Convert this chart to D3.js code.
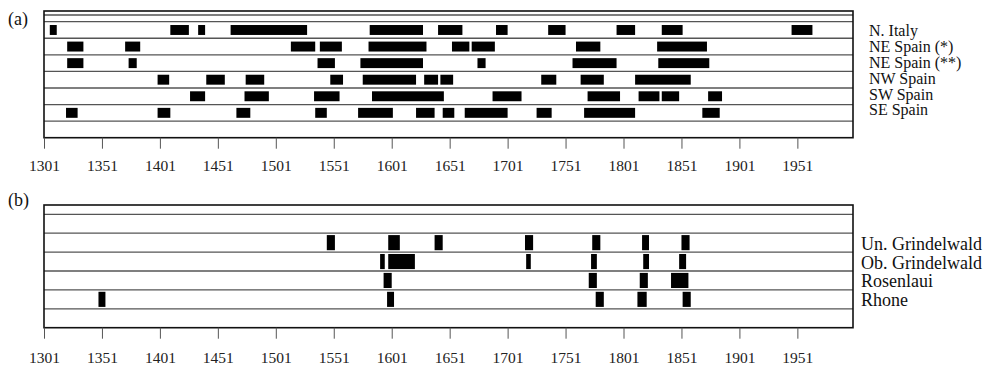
<!DOCTYPE html>
<html>
<head>
<meta charset="utf-8">
<script src="https://cdn.jsdelivr.net/npm/d3@7"></script>
<style>
  body { margin: 0; background: #fff; }
  svg { display: block; }
  .axis text { font-family: "Liberation Serif", "Times New Roman", serif; fill: #222; }
  .axis line { stroke: #555; }
</style>
</head>
<body>
<div id="chart"></div>
<script>
// ticks
const tickYears = [1301, 1351, 1401, 1451, 1501, 1551, 1601, 1651, 1701, 1751, 1801, 1851, 1901, 1951];

// panel (a) rows
const rowsA = ['N. Italy', 'NE Spain (*)', 'NE Spain (**)', 'NW Spain', 'SW Spain', 'SE Spain'];
const nItaly = [[1306,1312],[1410,1426],[1434,1440],[1462,1528],[1582,1628],[1641,1662],[1691,1701],[1736,1751],[1795,1811],[1834,1852],[1946,1964]];
const neSpain1 = [[1321,1335],[1371,1384],[1514,1535],[1539,1558],[1581,1631],[1653,1668],[1670,1690],[1760,1781],[1830,1873]];
const neSpain2 = [[1321,1335],[1374,1381],[1537,1552],[1574,1628],[1675,1682],[1757,1795],[1831,1875]];
const nwSpain = [[1399,1409],[1441,1457],[1475,1491],[1548,1559],[1576,1622],[1629,1641],[1643,1654],[1730,1743],[1764,1784],[1811,1859]];
const swSpain = [[1427,1440],[1474,1495],[1534,1556],[1584,1646],[1688,1713],[1770,1798],[1814,1832],[1834,1849],[1874,1886]];
const seSpain = [[1320,1330],[1399,1410],[1467,1479],[1535,1545],[1572,1602],[1622,1638],[1645,1655],[1664,1701],[1726,1739],[1767,1811],[1869,1884]];

// panel (b) rows
const rowsB = ['Un. Grindelwald', 'Ob. Grindelwald', 'Rosenlaui', 'Rhone'];
const unGrindelwald = [[1545,1552],[1598,1608],[1638,1645],[1716,1723],[1774,1781],[1817,1823],[1851,1858]];
const obGrindelwald = [[1591,1595],[1598,1621],[1717,1721],[1773,1778],[1818,1823],[1849,1855]];
const rosenlaui = [[1594,1601],[1771,1778],[1815,1822],[1842,1857]];
const rhone = [[1348,1354],[1597,1603],[1777,1784],[1813,1821],[1852,1859]];

const width = 984, height = 366;
const left = 44, right = 853;

const svg = d3.select('#chart').append('svg')
    .attr('width', width)
    .attr('height', height);

const x = d3.scaleLinear().domain([1301, 1999]).range([left, right]);

function drawPanel(opt) {
  const g = svg.append('g');
  // one empty slot at the bottom (and in (b) at the top)
  const domain = (opt.topBlank ? ['_top'] : []).concat(opt.rows, ['_bottom']);
  const y = d3.scaleBand().domain(domain).range([opt.bandTop, opt.bottom]);

  // row separators
  const lines = domain.map(d => y(d)).concat(opt.extraLines);
  g.selectAll('.rowline').data(lines).join('line')
      .attr('class', 'rowline')
      .attr('x1', left).attr('x2', right)
      .attr('y1', d => d).attr('y2', d => d)
      .attr('stroke', '#555')
      .attr('stroke-width', 1.3);

  // bars
  opt.rows.forEach((name, i) => {
    const h = y.bandwidth() * opt.barFrac;
    g.selectAll('.bar' + i).data(opt.series[i]).join('rect')
        .attr('class', 'bar' + i)
        .attr('x', d => x(d[0]))
        .attr('width', d => x(d[1]) - x(d[0]))
        .attr('y', y(name) + (y.bandwidth() - h) / 2)
        .attr('height', h)
        .attr('fill', '#000');
  });

  // frame
  g.append('rect')
      .attr('x', left).attr('y', opt.top)
      .attr('width', right - left).attr('height', opt.bottom - opt.top)
      .attr('fill', 'none')
      .attr('stroke', '#111')
      .attr('stroke-width', 1.6);

  // axis
  const axis = d3.axisBottom(x).tickValues(tickYears).tickFormat(d3.format('d'))
      .tickSize(11).tickSizeOuter(0).tickPadding(opt.tickPad);
  const ax = g.append('g').attr('class', 'axis')
      .attr('transform', 'translate(0,' + opt.bottom + ')')
      .call(axis);
  ax.select('.domain').remove();
  ax.selectAll('text').style('font-size', '15.5px');

  // row labels
  g.selectAll('.lab').data(opt.rows).join('text')
      .attr('class', 'lab')
      .attr('x', opt.labelX)
      .attr('y', (d, i) => y(opt.rows[0]) + y.bandwidth() / 2 + opt.labelDy + i * opt.labelStep)
      .attr('font-family', '"Liberation Serif", "Times New Roman", serif')
      .attr('font-size', opt.labelSize)
      .attr('fill', '#111')
      .text(d => d);

  // panel letter
  g.append('text')
      .attr('x', 8).attr('y', opt.top + opt.letterDy)
      .attr('font-family', '"Liberation Serif", "Times New Roman", serif')
      .attr('font-size', 18)
      .attr('fill', '#111')
      .text(opt.letter);
}

drawPanel({
  letter: '(a)', letterDy: 14,
  rows: rowsA,
  series: [nItaly, neSpain1, neSpain2, nwSpain, swSpain, seSpain],
  top: 11, bandTop: 21.7, bottom: 137.7, extraLines: [15],
  topBlank: false, barFrac: 0.6, tickPad: 11,
  labelX: 869, labelDy: 6.5, labelStep: 15.8, labelSize: 16
});

drawPanel({
  letter: '(b)', letterDy: 1,
  rows: rowsB,
  series: [unGrindelwald, obGrindelwald, rosenlaui, rhone],
  top: 205, bandTop: 214.3, bottom: 327.7, extraLines: [],
  topBlank: true, barFrac: 0.8, tickPad: 13,
  labelX: 861, labelDy: 7, labelStep: 18.9, labelSize: 18
});
</script>
</body>
</html>
